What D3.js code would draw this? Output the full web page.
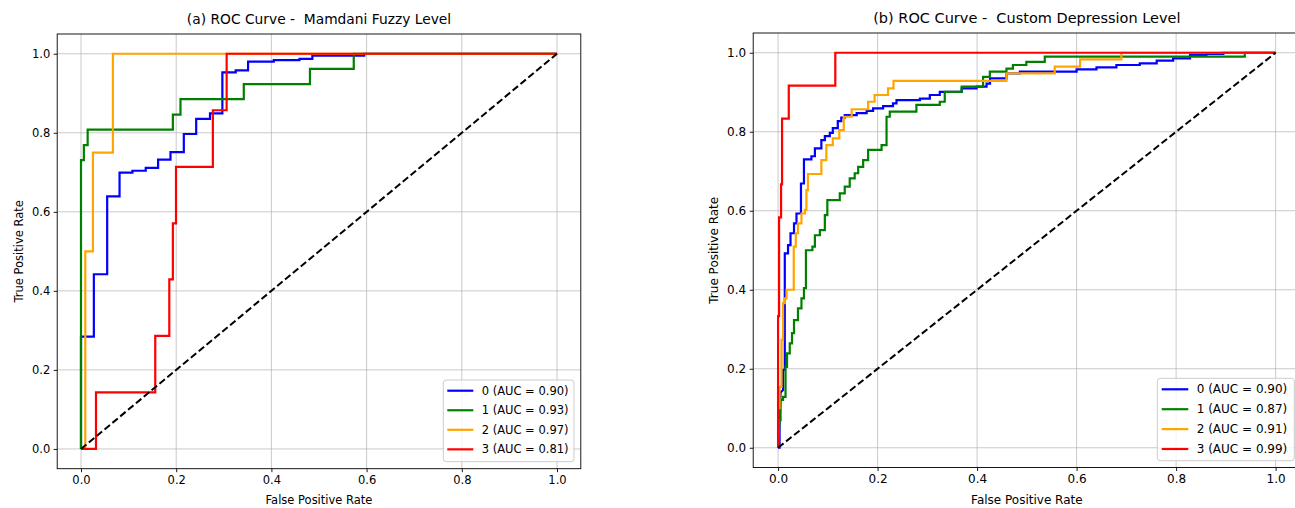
<!DOCTYPE html>
<html>
<head>
<meta charset="utf-8">
<script src="https://cdn.jsdelivr.net/npm/d3@7"></script>
<style>
  html, body { margin: 0; padding: 0; background: #fff; }
  svg text { font-family: "DejaVu Sans", sans-serif; fill: #000; }
</style>
</head>
<body>
<svg id="chart" width="1295" height="508"></svg>
<script>
// ---------- DATA ----------
const classLabels = ["0", "1", "2", "3"];
const classColors = ["blue", "green", "orange", "red"];
const tickValues = [0, 0.2, 0.4, 0.6, 0.8, 1.0];
const tickLabels = ["0.0", "0.2", "0.4", "0.6", "0.8", "1.0"];

const titleA = "(a) ROC Curve -  Mamdani Fuzzy Level";
const titleB = "(b) ROC Curve -  Custom Depression Level";
const aucA = ["0.90", "0.93", "0.97", "0.81"];
const aucB = ["0.90", "0.87", "0.91", "0.99"];

// Panel (a): [fpr, tpr]
const rocA0 = [[0,0],[0,0.284],[0.027,0.284],[0.027,0.442],[0.055,0.442],[0.055,0.639],[0.081,0.639],[0.081,0.699],[0.108,0.699],[0.108,0.704],[0.136,0.704],[0.136,0.711],[0.162,0.711],[0.162,0.732],[0.188,0.732],[0.188,0.751],[0.216,0.751],[0.216,0.797],[0.242,0.797],[0.242,0.835],[0.271,0.835],[0.271,0.849],[0.297,0.849],[0.297,0.953],[0.325,0.953],[0.325,0.958],[0.351,0.958],[0.351,0.98],[0.405,0.98],[0.405,0.984],[0.459,0.984],[0.459,0.987],[0.486,0.987],[0.486,0.995],[0.595,0.995],[0.595,1],[1,1]];
const rocA1 = [[0,0],[0,0.731],[0.006,0.731],[0.006,0.769],[0.014,0.769],[0.014,0.808],[0.193,0.808],[0.193,0.846],[0.209,0.846],[0.209,0.885],[0.342,0.885],[0.342,0.923],[0.481,0.923],[0.481,0.962],[0.573,0.962],[0.573,1],[1,1]];
const rocA2 = [[0,0],[0.009,0],[0.009,0.5],[0.025,0.5],[0.025,0.75],[0.067,0.75],[0.067,1],[1,1]];
const rocA3 = [[0,0],[0.0315,0],[0.0315,0.143],[0.156,0.143],[0.156,0.286],[0.1855,0.286],[0.1855,0.429],[0.193,0.429],[0.193,0.571],[0.1996,0.571],[0.1996,0.714],[0.277,0.714],[0.277,0.857],[0.306,0.857],[0.306,1],[1,1]];

// Panel (b): [fpr, tpr]
const rocB0 = [[0,0],[0.003,0],[0.003,0.06],[0.005,0.14],[0.01,0.146],[0.01,0.197],[0.0135,0.197],[0.0135,0.492],[0.02,0.492],[0.02,0.513],[0.025,0.513],[0.025,0.543],[0.032,0.543],[0.032,0.568],[0.037,0.568],[0.037,0.593],[0.046,0.593],[0.046,0.669],[0.052,0.669],[0.052,0.730],[0.067,0.73],[0.067,0.738],[0.074,0.738],[0.074,0.758],[0.087,0.758],[0.087,0.779],[0.094,0.779],[0.094,0.789],[0.104,0.789],[0.104,0.797],[0.11,0.797],[0.11,0.809],[0.12,0.809],[0.12,0.827],[0.127,0.827],[0.127,0.836],[0.134,0.836],[0.134,0.842],[0.158,0.842],[0.158,0.847],[0.178,0.847],[0.178,0.853],[0.191,0.853],[0.191,0.859],[0.211,0.859],[0.211,0.865],[0.231,0.865],[0.231,0.872],[0.238,0.872],[0.238,0.880],[0.285,0.880],[0.285,0.884],[0.305,0.884],[0.305,0.893],[0.325,0.893],[0.325,0.901],[0.369,0.901],[0.369,0.91],[0.399,0.91],[0.399,0.914],[0.419,0.914],[0.419,0.922],[0.426,0.922],[0.426,0.935],[0.459,0.935],[0.459,0.948],[0.486,0.948],[0.486,0.952],[0.6,0.952],[0.6,0.958],[0.64,0.958],[0.64,0.963],[0.68,0.963],[0.68,0.969],[0.727,0.969],[0.727,0.973],[0.761,0.973],[0.761,0.98],[0.794,0.98],[0.794,0.986],[0.828,0.986],[0.828,0.994],[0.861,0.994],[0.861,0.997],[0.895,0.997],[0.895,1],[1,1]];
const rocB1 = [[0,0],[0.003,0.07],[0.005,0.07],[0.005,0.121],[0.01,0.121],[0.01,0.129],[0.015,0.129],[0.015,0.205],[0.018,0.205],[0.018,0.239],[0.0235,0.239],[0.0235,0.264],[0.028,0.264],[0.028,0.29],[0.032,0.29],[0.032,0.323],[0.04,0.323],[0.04,0.353],[0.047,0.353],[0.047,0.378],[0.052,0.378],[0.052,0.404],[0.056,0.404],[0.056,0.5],[0.069,0.5],[0.069,0.509],[0.074,0.509],[0.074,0.538],[0.084,0.538],[0.084,0.551],[0.094,0.551],[0.094,0.589],[0.099,0.589],[0.099,0.627],[0.124,0.627],[0.124,0.644],[0.134,0.644],[0.134,0.661],[0.144,0.661],[0.144,0.682],[0.154,0.682],[0.154,0.695],[0.161,0.695],[0.161,0.711],[0.171,0.711],[0.171,0.728],[0.181,0.728],[0.181,0.754],[0.208,0.754],[0.208,0.766],[0.218,0.766],[0.218,0.838],[0.2245,0.838],[0.2245,0.851],[0.278,0.851],[0.278,0.868],[0.325,0.868],[0.325,0.876],[0.335,0.876],[0.335,0.901],[0.369,0.901],[0.369,0.914],[0.412,0.914],[0.412,0.939],[0.4256,0.939],[0.4256,0.952],[0.459,0.952],[0.459,0.96],[0.472,0.96],[0.472,0.969],[0.499,0.969],[0.499,0.977],[0.536,0.977],[0.536,0.99],[0.938,0.99],[0.938,1],[1,1]];
const rocB2 = [[0,0],[0,0.1],[0.003,0.1],[0.003,0.154],[0.007,0.154],[0.007,0.273],[0.01,0.273],[0.01,0.366],[0.0135,0.366],[0.0135,0.378],[0.017,0.378],[0.017,0.4],[0.0315,0.4],[0.0315,0.509],[0.0356,0.509],[0.0356,0.543],[0.04,0.543],[0.04,0.568],[0.047,0.568],[0.047,0.593],[0.054,0.593],[0.054,0.602],[0.057,0.602],[0.057,0.652],[0.060,0.652],[0.060,0.693],[0.087,0.693],[0.087,0.728],[0.097,0.728],[0.097,0.766],[0.11,0.766],[0.11,0.783],[0.123,0.783],[0.123,0.804],[0.132,0.804],[0.132,0.838],[0.148,0.838],[0.148,0.857],[0.181,0.857],[0.181,0.876],[0.194,0.876],[0.194,0.893],[0.221,0.893],[0.221,0.91],[0.232,0.91],[0.232,0.929],[0.459,0.929],[0.459,0.948],[0.556,0.948],[0.556,0.965],[0.607,0.965],[0.607,0.983],[0.69,0.983],[0.69,1],[1,1]];
const rocB3 = [[0,0],[0,0.333],[0.002,0.333],[0.002,0.583],[0.006,0.583],[0.006,0.667],[0.008,0.667],[0.008,0.833],[0.0215,0.833],[0.0215,0.917],[0.115,0.917],[0.115,1],[1,1]];

const chanceLine = [[0,0],[1,1]];

// ---------- LAYOUT ----------
const panels = [
  { box: {left: 57.2, right: 580.8, top: 34, bottom: 468.7}, font: 11.5, titleFont: 13.8,
    title: titleA, auc: aucA, rocs: [rocA0, rocA1, rocA2, rocA3],
    titleY: 24, xLabelY: 504, yLabelX: 22.5,
    legend: {x: 443.3, y: 380, w: 130.7, h: 81.7, row0: 10.7, step: 19.55, hx: 4, hlen: 26, tx: 38.4} },
  { box: {left: 753.2, right: 1300.5, top: 33, bottom: 467.5}, font: 12, titleFont: 14.5,
    title: titleB, auc: aucB, rocs: [rocB0, rocB1, rocB2, rocB3],
    titleY: 23, xLabelY: 504, yLabelX: 718,
    legend: {x: 1157.3, y: 378.3, w: 137, h: 82.4, row0: 11, step: 19.9, hx: 4.4, hlen: 26.6, tx: 39.4} }
];

const svg = d3.select("#chart");
svg.append("rect").attr("width", 1295).attr("height", 508).attr("fill", "#fff");

panels.forEach(p => {
  const b = p.box;
  const x = d3.scaleLinear().domain([-0.05, 1.05]).range([b.left, b.right]);
  const y = d3.scaleLinear().domain([-0.05, 1.05]).range([b.bottom, b.top]);
  const g = svg.append("g");

  // grid
  g.append("g").selectAll("line").data(tickValues).join("line")
    .attr("x1", d => x(d)).attr("x2", d => x(d))
    .attr("y1", b.top).attr("y2", b.bottom)
    .attr("stroke", "#b0b0b0").attr("stroke-width", 0.9).attr("stroke-opacity", 0.75);
  g.append("g").selectAll("line").data(tickValues).join("line")
    .attr("y1", d => y(d)).attr("y2", d => y(d))
    .attr("x1", b.left).attr("x2", b.right)
    .attr("stroke", "#b0b0b0").attr("stroke-width", 0.9).attr("stroke-opacity", 0.75);

  // curves
  const line = d3.line().x(d => x(d[0])).y(d => y(d[1]));
  p.rocs.forEach((r, i) => {
    g.append("path").datum(r).attr("d", line)
      .attr("fill", "none").attr("stroke", classColors[i])
      .attr("stroke-width", 2.2).attr("stroke-linejoin", "miter").attr("stroke-linecap", "butt");
  });
  g.append("path").datum(chanceLine).attr("d", line)
    .attr("fill", "none").attr("stroke", "#000").attr("stroke-width", 2)
    .attr("stroke-dasharray", "7,3.2");

  // spines
  g.append("rect").attr("x", b.left).attr("y", b.top)
    .attr("width", b.right - b.left).attr("height", b.bottom - b.top)
    .attr("fill", "none").attr("stroke", "#000").attr("stroke-width", 0.9);

  // axes
  const fmt = (d, i) => tickLabels[i];
  const ax = g.append("g").attr("transform", `translate(0,${b.bottom})`)
    .call(d3.axisBottom(x).tickValues(tickValues).tickFormat(fmt).tickSize(3.5).tickPadding(3.5));
  const ay = g.append("g").attr("transform", `translate(${b.left},0)`)
    .call(d3.axisLeft(y).tickValues(tickValues).tickFormat(fmt).tickSize(3.5).tickPadding(3.5));
  [ax, ay].forEach(a => {
    a.select(".domain").remove();
    a.selectAll(".tick line").attr("stroke", "#000").attr("stroke-width", 0.9);
    a.selectAll(".tick text").attr("font-family", "DejaVu Sans").attr("font-size", p.font).attr("fill", "#000");
  });

  // title and labels
  const cx = (b.left + b.right) / 2;
  g.append("text").attr("x", cx).attr("y", p.titleY).attr("text-anchor", "middle")
    .attr("font-size", p.titleFont).style("white-space", "pre").text(p.title);
  g.append("text").attr("x", cx).attr("y", p.xLabelY).attr("text-anchor", "middle")
    .attr("font-size", p.font).text("False Positive Rate");
  g.append("text").attr("transform", `translate(${p.yLabelX},${(b.top + b.bottom) / 2}) rotate(-90)`)
    .attr("text-anchor", "middle").attr("font-size", p.font).text("True Positive Rate");

  // legend
  const L = p.legend;
  const lg = g.append("g").attr("transform", `translate(${L.x},${L.y})`);
  lg.append("rect").attr("width", L.w).attr("height", L.h).attr("rx", 3).attr("ry", 3)
    .attr("fill", "#fff").attr("fill-opacity", 0.8).attr("stroke", "#cccccc").attr("stroke-width", 1);
  classLabels.forEach((c, i) => {
    const ry = L.row0 + i * L.step;
    lg.append("line").attr("x1", L.hx).attr("x2", L.hx + L.hlen).attr("y1", ry).attr("y2", ry)
      .attr("stroke", classColors[i]).attr("stroke-width", 2.2);
    lg.append("text").attr("x", L.tx).attr("y", ry).attr("dy", "0.35em")
      .attr("font-size", p.font).text(`${c} (AUC = ${p.auc[i]})`);
  });
});
</script>
</body>
</html>
